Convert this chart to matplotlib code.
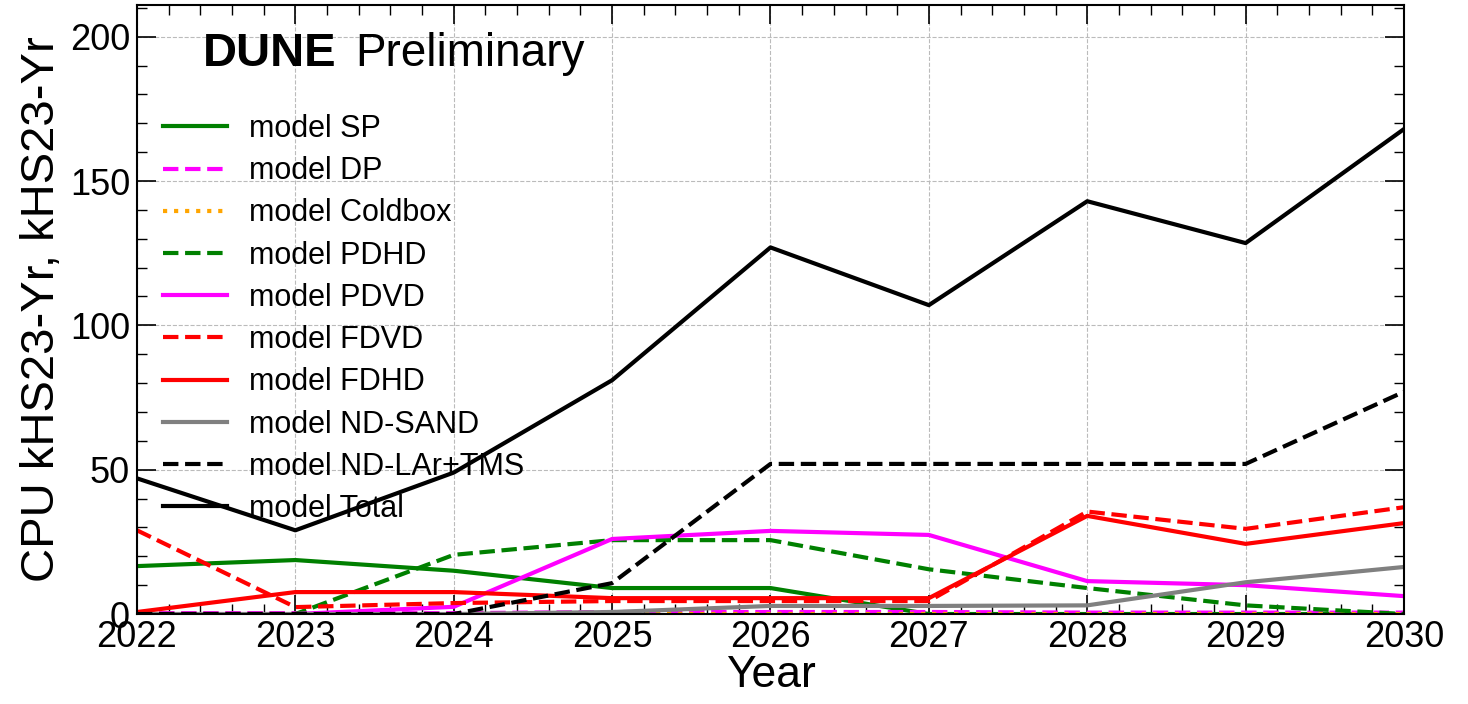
import numpy as np
import matplotlib.pyplot as plt
from matplotlib.ticker import MultipleLocator

plt.rcParams['font.family'] = ['Liberation Sans', 'DejaVu Sans']

years = [2022, 2023, 2024, 2025, 2026, 2027, 2028, 2029, 2030]

sp = [16.6, 18.7, 15.0, 9.0, 9.0, 0.0, 0.0, 0.0, 0.0]
dp = [0.3, 0.3, 0.3, 0.7, 0.7, 0.7, 0.5, 0.5, 0.5]
coldbox = [0, 0, 0, 0, 0, 0, 0, 0, 0]
pdhd = [0.0, 0.0, 20.5, 25.6, 25.6, 15.5, 9.0, 3.0, 0.0]
pdvd = [0.0, 0.0, 2.5, 26.0, 28.8, 27.4, 11.4, 10.0, 6.2]
fdvd = [29.0, 2.4, 3.8, 4.5, 4.5, 4.5, 35.5, 29.5, 37.0]
fdhd = [0.7, 7.6, 7.6, 5.5, 5.5, 5.5, 34.0, 24.3, 31.5]
nd_sand = [0.0, 0.0, 0.0, 0.7, 2.8, 2.8, 3.0, 11.0, 16.3]
nd_lar = [0.0, 0.0, 0.0, 10.7, 52.0, 52.0, 52.0, 52.0, 77.0]
total = [47.0, 29.0, 49.0, 81.0, 127.0, 107.0, 143.0, 128.5, 168.0]

series = [
    ("model SP", sp, "green", "-"),
    ("model DP", dp, "magenta", "--"),
    ("model Coldbox", coldbox, "orange", ":"),
    ("model PDHD", pdhd, "green", "--"),
    ("model PDVD", pdvd, "magenta", "-"),
    ("model FDVD", fdvd, "red", "--"),
    ("model FDHD", fdhd, "red", "-"),
    ("model ND-SAND", nd_sand, "gray", "-"),
    ("model ND-LAr+TMS", nd_lar, "black", "--"),
    ("model Total", total, "black", "-"),
]

fig = plt.figure(figsize=(14.68, 7.04), dpi=100)
ax = fig.add_axes([0.0933, 0.1278, 0.8631, 0.8652])

for name, vals, col, ls in series:
    ax.plot(years, vals, color=col, ls=ls, lw=3, label=name)

ax.set_xlim(2022, 2030)
ax.set_ylim(0, 211)
ax.xaxis.set_major_locator(MultipleLocator(1))
ax.xaxis.set_minor_locator(MultipleLocator(0.2))
ax.yaxis.set_major_locator(MultipleLocator(50))
ax.yaxis.set_minor_locator(MultipleLocator(10))
ax.tick_params(which='both', direction='in', top=True, right=True, labelsize=26)
ax.tick_params(axis='x', pad=4)
ax.tick_params(axis='y', pad=5)
ax.tick_params(which='major', length=14, width=1.2)
ax.tick_params(which='minor', length=7, width=1)
ax.grid(True, which='major', ls='--', color='#bbbbbb', lw=0.8)
for s in ax.spines.values():
    s.set_linewidth(1.5)

ax.set_xlabel("Year", fontsize=32, labelpad=0)
ax.set_ylabel("CPU kHS23-Yr, kHS23-Yr", fontsize=34, labelpad=4)

ax.text(0.052, 0.92, "DUNE", transform=ax.transAxes, fontsize=34, fontweight='bold', va='center')
ax.text(0.172, 0.92, "Preliminary", transform=ax.transAxes, fontsize=33, va='center')

ax.legend(loc='upper left', bbox_to_anchor=(0.0036, 0.856), frameon=False, fontsize=22,
          handlelength=2.1, handletextpad=0.72, labelspacing=0.4, borderaxespad=0.3)

fig.savefig("out.png", dpi=100)
